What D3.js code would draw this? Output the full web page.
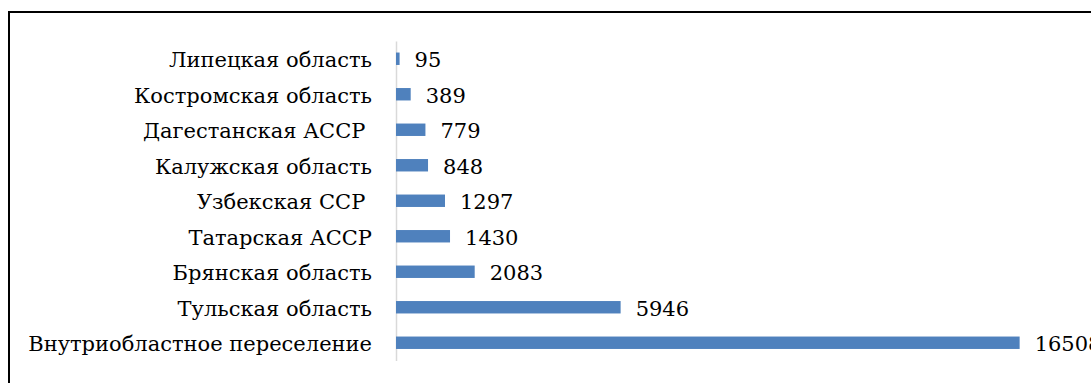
<!DOCTYPE html>
<html>
<head>
<meta charset="utf-8">
<script src="https://cdn.jsdelivr.net/npm/d3@7/dist/d3.min.js"></script>
<style>
  html, body { margin: 0; padding: 0; background: #fff; }
  svg { display: block; }
</style>
</head>
<body>
<svg id="chart" width="1091" height="383"></svg>
<script>
// Migration sources, top to bottom
const categories = [
  "Липецкая область",
  "Костромская область",
  "Дагестанская АССР ",
  "Калужская область",
  "Узбекская ССР ",
  "Татарская АССР",
  "Брянская область",
  "Тульская область",
  "Внутриобластное переселение"
];
const values = [95, 389, 779, 848, 1297, 1430, 2083, 5946, 16508];
const axisMax = 18000;

const fontSize = 21;
const fontFamily = "DejaVu Serif";

const svg = d3.select("#chart");

// outer frame (cropped at right and bottom)
svg.append("rect")
  .attr("x", 9).attr("y", 12)
  .attr("width", 1200).attr("height", 500)
  .attr("fill", "none").attr("stroke", "#000").attr("stroke-width", 2);

const x = d3.scaleLinear().domain([0, axisMax]).range([396, 1076]);
const y = d3.scaleBand().domain(categories).range([41, 360.5])
  .paddingInner(0.65).paddingOuter(0.325);

// category axis
const yAxis = d3.axisLeft(y).tickSize(0).tickPadding(24);
const gy = svg.append("g").attr("transform", `translate(${x(0)},0)`).call(yAxis)
  .attr("font-family", fontFamily).attr("font-size", fontSize);
gy.select(".domain").attr("stroke", "#d9d9d9").attr("stroke-width", 1.5);
gy.selectAll(".tick text")
  .attr("fill", "#000")
  .attr("xml:space", "preserve")
  .attr("dy", "0.41em");

// bars
svg.append("g").selectAll("rect")
  .data(values)
  .join("rect")
  .attr("x", x(0))
  .attr("y", (d, i) => y(categories[i]))
  .attr("width", d => x(d) - x(0))
  .attr("height", y.bandwidth())
  .attr("fill", "#4f81bd");

// value labels
svg.append("g")
  .attr("font-family", fontFamily)
  .attr("font-size", fontSize)
  .selectAll("text")
  .data(values)
  .join("text")
  .attr("x", d => x(d) + 15)
  .attr("y", (d, i) => y(categories[i]) + y.bandwidth() / 2)
  .attr("dy", "0.41em")
  .attr("fill", "#000")
  .text(d => d);
</script>
</body>
</html>
